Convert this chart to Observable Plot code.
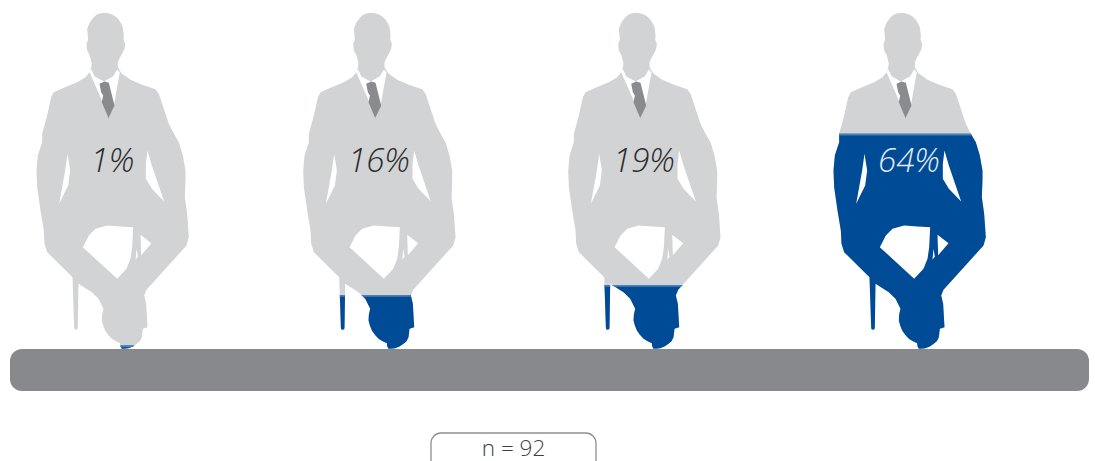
<!DOCTYPE html>
<html>
<head>
<meta charset="utf-8">
<script src="https://cdn.jsdelivr.net/npm/d3@7"></script>
<script src="https://cdn.jsdelivr.net/npm/@observablehq/plot@0.6"></script>
<style>html,body{margin:0;padding:0;background:#fff;overflow:hidden}svg{display:block}</style>
</head>
<body>
<div id="chart"></div>
<script>
// Chart values
const percentages = [1, 16, 19, 64];
const percentLabels = ["1%", "16%", "19%", "64%"];
const sampleLabel = "n = 92";

// Pictogram glyph outlines, in glyph units (3 units = 1 px)
const body = [[250,37],[264,38],[275,42],[286,49],[295,58],[302,69],[307,80],[310,105],[309,118],[314,130],[312,145],[305,160],[298,172],[292,185],[292,200],[303,218],
[330,238],[365,253],[405,266],[415,280],[430,325],[445,370],[460,400],[475,425],[487,465],[495,510],[495,540],[493,590],[500,640],[505,710],[498,735],
[378,868],[371,885],[377,910],[381,980],[367,985],[364,1010],[358,1022],[349,1030],[337,1038],[324,1043],[312,1045],[304,1045],[300,1038],[299,1028],[286,1022],[274,1015],[263,1003],[254,990],[248,975],[244,960],[245,942],[249,925],[234,895],[214,875],[174,850],
[172,980],[171,986],[166,988],[162,986],[161,980],[156,830],[80,755],[72,730],[70,690],[60,630],[50,560],[48,510],[52,465],[65,425],[65,400],[80,345],[92,290],[100,275],[130,262],[170,245],[195,230],[210,212],
[214,190],[208,165],[200,150],[198,130],[203,118],[200,85],[208,65],[218,52],[228,43],[238,39]];
const holes = [
  [[141,460],[149,510],[143,555],[116,610],[134,510]],
  [[381,450],[394,495],[431,603],[394,565],[376,535],[376,490]],
  [[187,740],[205,705],[225,685],[260,675],[300,678],[338,680],[335,740],[330,775],[318,805],[290,835]],
  [[360,703],[393,728],[362,764]],
  [[348,745],[345,778],[352,768]]
];
const shirt = [[207,215],[213,207],[222,227],[250,243],[278,227],[290,207],[298,215],[280,315],[264,353],[242,295]];
const tie = [[237,250],[252,243],[265,247],[282,315],[264,353],[244,305],[248,285],[242,275]];
const glyphTop = 37, glyphBottom = 1045;

// Keep only the part of a polygon inside a horizontal band of glyph units
function clipEdge(poly, inside, cross) {
  const out = [];
  poly.forEach((p, i) => {
    const q = poly[(i + 1) % poly.length];
    const a = inside(p), b = inside(q);
    if (a) out.push(p);
    if (a !== b) {
      const t = (cross - p[1]) / (q[1] - p[1]);
      out.push([p[0] + t * (q[0] - p[0]), cross]);
    }
  });
  return out;
}
const band = (poly, y0, y1) =>
  clipEdge(clipEdge(poly, p => p[1] >= y0, y0), p => p[1] <= y1, y1);

const figureOffsets = [0, 266.7, 531.7, 797];
const level = p => glyphBottom - (glyphBottom - glyphTop) * p / 100;
const toRows = (poly, fig, id) => poly.map(([u, v]) => ({
  x: 20 + u / 3 + figureOffsets[fig],
  y: v / 3,
  id: `${id}-${fig}`
}));
const layer = make => percentages.flatMap((p, fig) =>
  make(p).flatMap((poly, k) => toRows(poly, fig, k)));

const silhouette = layer(() => [body]);
const filled = layer(p => [band(body, level(p) , glyphBottom + 1)]);
const highlight = layer(p => [band(body, level(p), level(p) + 5)]);
const cutouts = layer(() => [...holes, shirt]);
const ties = layer(() => [tie]);

const labels = percentages.map((p, i) => ({
  label: percentLabels[i],
  x: [112, 378.5, 643.5, 908.5][i],
  dark: p < 50
}));

const poly = (rows, fill) => Plot.line(rows, {x: "x", y: "y", z: "id", fill, stroke: "none", curve: "linear-closed"});

const chart = Plot.plot({
  width: 1095,
  height: 461,
  margin: 0,
  x: {domain: [0, 1095], range: [0, 1095], axis: null},
  y: {domain: [0, 461], range: [0, 461], axis: null},
  style: {background: "#fff", fontFamily: "'Open Sans', sans-serif"},
  marks: [
    poly(silhouette, "#d1d3d4"),
    poly(filled, "#004b96"),
    poly(highlight, "#4a80b8"),
    poly(cutouts, "#ffffff"),
    poly(ties, "#8a8b8f"),
    Plot.rect([0], {x1: () => 10, x2: () => 1089, y1: () => 349, y2: () => 391, fill: "#88898d", rx: 12, ry: 12}),
    Plot.text(labels, {
      x: "x", y: () => 161, text: "label",
      fill: d => d.dark ? "#2b2b2d" : "#e3eaf3",
      fontSize: 33, fontStyle: "italic", fontWeight: 300,
      fontFamily: "'Open Sans', sans-serif"
    }),
    Plot.rect([0], {x1: () => 431, x2: () => 596, y1: () => 433, y2: () => 480, fill: "none", stroke: "#8e8f93", strokeWidth: 1.3, rx: 10, ry: 10}),
    Plot.text([sampleLabel], {
      x: () => 513, y: () => 448, text: d => d,
      fill: "#3f3f41", fontSize: 22.5, fontWeight: 300,
      fontFamily: "'Open Sans', sans-serif"
    })
  ]
});
document.getElementById("chart").append(chart);
</script>
</body>
</html>
